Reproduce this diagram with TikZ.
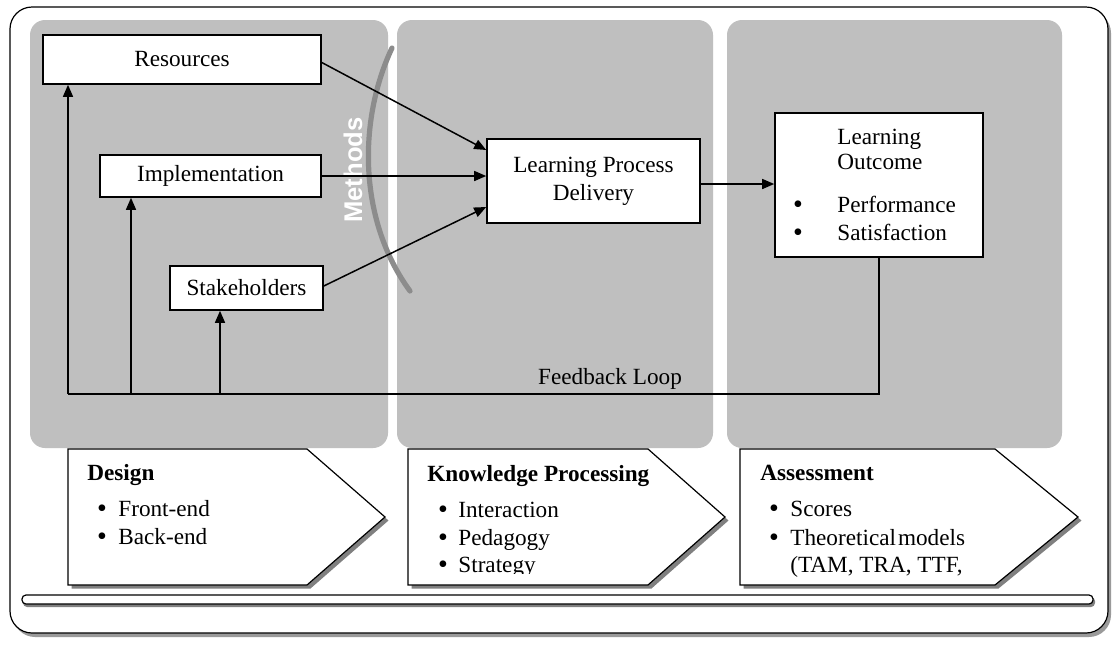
\documentclass[tikz,border=0pt]{standalone}
\usepackage{fontspec}
\setmainfont{Liberation Serif}
\setsansfont{Liberation Sans}
\usetikzlibrary{arrows.meta,calc}
\definecolor{panelgray}{HTML}{BFBFBF}
\definecolor{arcgray}{HTML}{8C8C8C}
\definecolor{shadowgray}{HTML}{808080}
\begin{document}
\begin{tikzpicture}[x=0.5pt,y=-0.5pt,
  font=\fontsize{11.6}{14}\selectfont,
  box/.style={draw=black, line width=0.8pt, fill=white, inner sep=0pt, align=center},
  flow/.style={line width=0.75pt, -{Triangle[length=6pt,width=5pt]}},
  panel/.style={fill=panelgray, rounded corners=7.5pt},
  lbl/.style={anchor=base west, inner sep=0pt},
  dot/.style={anchor=base, inner sep=0pt, font=\fontsize{14}{14}\selectfont},
  plate/.style={draw=black, line width=0.6pt, fill=white},
  plateshadow/.style={fill=shadowgray, shift={(3.5,3.5)}},
]
\useasboundingbox (0,0) rectangle (1114,644);

% outer frame with its shadow
\fill[shadowgray!80, rounded corners=11pt] (13,11) rectangle (1111,637);
\draw[fill=white, line width=0.6pt, rounded corners=11pt] (10,7) rectangle (1108,633);

% three stage panels
\fill[panel] (30,20) rectangle (388,448);
\fill[panel] (397,20) rectangle (713,448);
\fill[panel] (727,20) rectangle (1062,448);

% methods lens
\draw[arcgray, line width=2.6pt, line cap=round] (392,48) .. controls (358,120) and (358,220) .. (410,291);
\node[rotate=90, text=white, inner sep=0pt, font=\sffamily\bfseries\fontsize{12.8}{14}\selectfont] (meth) at (353,170) {Methods};

% design inputs
\node[box, minimum width=139pt, minimum height=24.5pt] (res) at (182,59.5) {Resources};
\node[box, minimum width=110.5pt, minimum height=21pt] (impl) at (210.5,176) {Implementation};
\node[box, minimum width=76.5pt, minimum height=22pt] (stake) at (246.5,288) {Stakeholders};

% delivery and outcome
\node[box, minimum width=106.5pt, minimum height=42pt] (lpd) at (593.5,181) {Learning Process\\Delivery};
\node[box, minimum width=104pt, minimum height=72pt] (lo) at (879,185) {};
\node[lbl] (lo1) at (837,144) {Learning};
\node[lbl] (lo2) at (837,169) {Outcome};
\node[dot] (lob1) at (798,213) {•};
\node[lbl] (lo3) at (837,212) {Performance};
\node[dot] (lob2) at (798,241) {•};
\node[lbl] (lo4) at (837,240) {Satisfaction};

% flows into delivery
\draw[flow] ($(res.east)+(0,3)$) -- ($(lpd.west)+(0,-31)$);
\draw[flow] (impl.east) -- (impl.east -| lpd.west);
\draw[flow] ($(stake.east)+(0,-2)$) -- ($(lpd.west)+(0,26)$);
\draw[flow] ($(lpd.east)+(0,3)$) -- ($(lpd.east -| lo.west)+(0,3)$);

% feedback loop
\coordinate (fba) at (68,394);
\coordinate (fbb) at (131,394);
\coordinate (fbc) at (220,394);
\draw[line width=0.75pt] (lo.south) |- (fba);
\draw[flow] (fba) -- (fba |- res.south);
\draw[flow] (fbb) -- (fbb |- impl.south);
\draw[flow] (fbc) -- (fbc |- stake.south);
\node[anchor=base, inner sep=0pt] (fbl) at (610,384) {Feedback Loop};

% stage plates
\fill[plateshadow] (68,449) -- (307,449) -- (385,517) -- (307,585) -- (68,585) -- cycle;
\draw[plate] (68,449) -- (307,449) -- (385,517) -- (307,585) -- (68,585) -- cycle;
\fill[plateshadow] (408,449) -- (648,449) -- (725,517) -- (648,585) -- (408,585) -- cycle;
\draw[plate] (408,449) -- (648,449) -- (725,517) -- (648,585) -- (408,585) -- cycle;
\fill[plateshadow] (740,449) -- (995,449) -- (1078,517) -- (995,585) -- (740,585) -- cycle;
\draw[plate] (740,449) -- (995,449) -- (1078,517) -- (995,585) -- (740,585) -- cycle;

% design plate text
\node[lbl, font=\fontsize{11.6}{14}\selectfont\bfseries] (d0) at (87,480) {Design};
\node[dot] (db1) at (102,517) {•};
\node[lbl] (d1) at (118,516) {Front-end};
\node[dot] (db2) at (102,545) {•};
\node[lbl] (d2) at (118,544) {Back-end};

% knowledge processing plate text
\node[lbl, font=\fontsize{11.6}{14}\selectfont\bfseries] (k0) at (427,481) {Knowledge Processing};
\node[dot] (kb1) at (443,518) {•};
\node[lbl] (k1) at (458,517) {Interaction};
\node[dot] (kb2) at (443,546) {•};
\node[lbl] (k2) at (458,545) {Pedagogy};
\begin{scope}
  \clip (408,449) rectangle (725,573);
  \node[dot] (kb3) at (443,573) {•};
  \node[lbl] (k3) at (458,572) {Strategy};
\end{scope}

% assessment plate text
\node[lbl, font=\fontsize{11.6}{14}\selectfont\bfseries] (a0) at (760,480) {Assessment};
\node[dot] (ab1) at (774,517) {•};
\node[lbl] (a1) at (790,516) {Scores};
\node[dot] (ab2) at (774,546) {•};
\node[lbl] (a2) at (790,545) {Theoretical\hspace{1pt}models};
\node[lbl] (a3) at (790,572) {(TAM, TRA, TTF,};

% base bar
\fill[shadowgray, rounded corners=2pt] (23,597) rectangle (1095,607);
\draw[fill=white, line width=0.6pt, rounded corners=2pt] (22,595) rectangle (1093,604);
\end{tikzpicture}
\end{document}
